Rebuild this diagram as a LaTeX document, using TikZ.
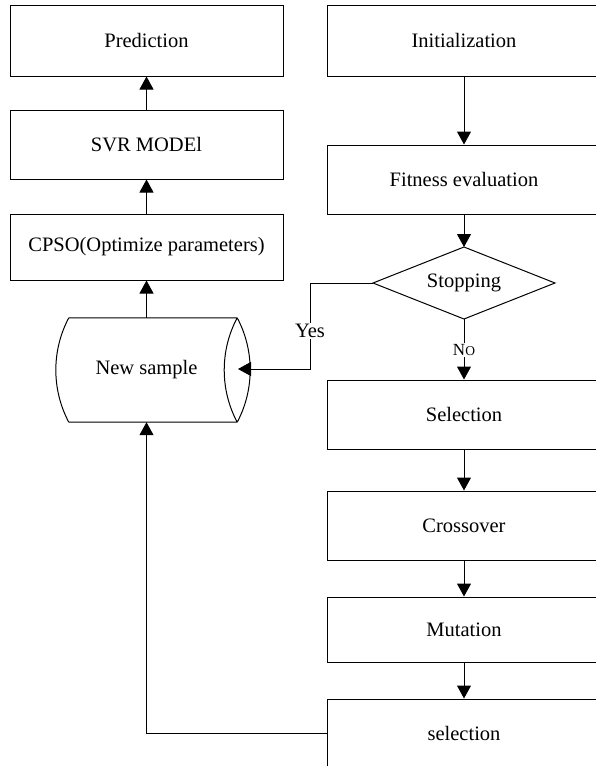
\documentclass[tikz,border=0pt]{standalone}
\usepackage{fontspec}
\setmainfont{Liberation Serif}
\usetikzlibrary{arrows.meta,calc}
\begin{document}
\begin{tikzpicture}[x=1pt,y=-1pt,
  box/.style={draw, line width=1pt, rectangle, inner sep=0pt, font=\fontsize{20.5}{24}\selectfont},
  lbox/.style={box, minimum width=273pt},
  rbox/.style={box, minimum width=274pt},
  conn/.style={line width=1pt},
  arr/.style={conn, -{Triangle[width=14pt,length=13pt]}},
  lbl/.style={font=\fontsize{20.5}{24}\selectfont, fill=white, inner sep=1pt}
]
\useasboundingbox (0,0) rectangle (596,766);
\clip (0,0) rectangle (596,766);
% left column
\node[lbox, minimum height=71pt] (pred) at (146.5,40.5) {Prediction};
\node[lbox, minimum height=69pt] (svr) at (146.5,144.5) {SVR MODEl};
\node[lbox, minimum height=66pt] (cpso) at (146.5,247) {CPSO(Optimize parameters)};
% cylinder
\node[inner sep=0pt, minimum width=168pt, minimum height=104pt] (ns) at (153,370) {};
\node[font=\fontsize{20.5}{24}\selectfont] (nst) at (146.5,370) {New sample};
\draw[line width=1pt] (ns.north west) -- (ns.north east)
  (ns.south west) -- (ns.south east)
  (ns.north west) .. controls ($(ns.north west)+(-17.3,32.5)$) and ($(ns.south west)+(-17.3,-32.5)$) .. (ns.south west)
  (ns.north east) .. controls ($(ns.north east)+(-17.3,32.5)$) and ($(ns.south east)+(-17.3,-32.5)$) .. (ns.south east)
  (ns.north east) .. controls ($(ns.north east)+(17.3,32.5)$) and ($(ns.south east)+(17.3,-32.5)$) .. (ns.south east);
% right column
\node[rbox, minimum height=71pt] (init) at (464,40.5) {Initialization};
\node[rbox, minimum height=69pt] (fit) at (464,179.5) {Fitness evaluation};
\coordinate (dt) at (464,247);
\coordinate (dl) at (373,283);
\coordinate (dr) at (555,283);
\coordinate (db) at (464,319);
\draw[line width=1pt] (dt) -- (dr) -- (db) -- (dl) -- cycle;
\node[font=\fontsize{20.5}{24}\selectfont] (stop) at (464,283) {Stopping};
\node[rbox, minimum height=69pt] (sel) at (464,414.5) {Selection};
\node[rbox, minimum height=69pt] (cross) at (464,525.5) {Crossover};
\node[rbox, minimum height=65pt] (mut) at (464,629.5) {Mutation};
\node[rbox, minimum height=68pt] (sel2) at (464,733) {selection};
% connectors left
\draw[arr] (svr.north) -- (pred.south);
\draw[arr] (cpso.north) -- (svr.south);
\draw[arr] (ns.north -| cpso.south) -- (cpso.south);
\coordinate (lowc) at (146.5,733);
\draw[arr] (sel2.west) -- (lowc) -- (ns.south -| lowc);
% connectors right
\draw[arr] (init.south) -- (fit.north);
\draw[arr] (fit.south) -- (dt);
\coordinate (ycorner) at (310,283);
\coordinate (ycorner2) at (310,369);
\coordinate (nsin) at (238,369);
\draw[arr] (dl) -- (ycorner) -- (ycorner2) -- (nsin);
\node[lbl] (yes) at (310,331) {Yes};
\draw[arr] (db) -- (sel.north);
\node[fill=white, inner sep=1pt, font=\fontsize{17}{20}\selectfont] (no) at (464,350) {N{\fontsize{13.5}{16}\selectfont O}};
\draw[arr] (sel.south) -- (cross.north);
\draw[arr] (cross.south) -- (mut.north);
\draw[arr] (mut.south) -- (sel2.north);
\end{tikzpicture}
\end{document}
